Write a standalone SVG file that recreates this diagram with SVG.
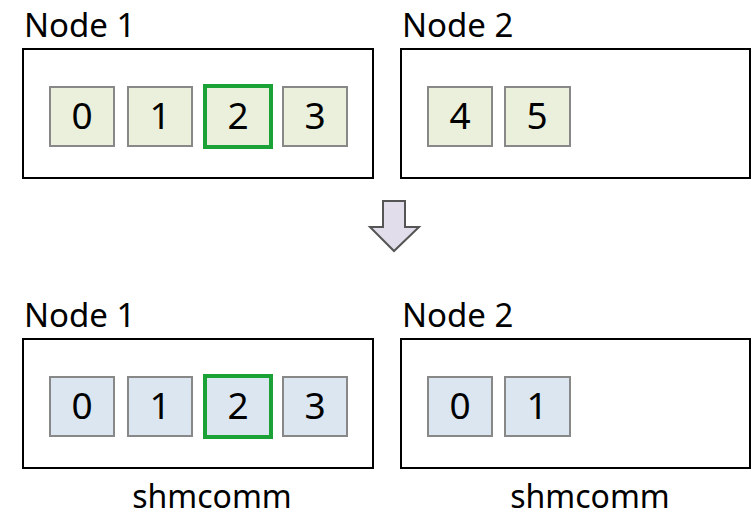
<svg xmlns="http://www.w3.org/2000/svg" width="756" height="516" viewBox="0 0 756 516">
  <style>
    .node { fill: #ffffff; stroke: #000000; stroke-width: 2; }
    .label { font-family: "Noto Sans", "DejaVu Sans", sans-serif; font-size: 33px; fill: #000000; }
    .rank { font-family: "Noto Sans", "DejaVu Sans", sans-serif; font-size: 37px; fill: #000000; text-anchor: middle; }
    .cap { font-family: "Noto Sans", "DejaVu Sans", sans-serif; font-size: 32px; fill: #000000; text-anchor: middle; }
    .world { fill: #ebf0dd; stroke: #888888; stroke-width: 2; }
    .shm { fill: #dce6f0; stroke: #888888; stroke-width: 2; }
    .self { stroke: #1ba236; stroke-width: 4; }
  </style>

  <!-- before split: COMM_WORLD ranks -->
  <g id="top-node1">
    <text class="label" x="24" y="37">Node 1</text>
    <rect class="node" x="23" y="49" width="350" height="129"/>
    <rect class="world" x="50" y="87" width="64" height="59"/>
    <text class="rank" x="82" y="129">0</text>
    <rect class="world" x="128" y="87" width="64" height="59"/>
    <text class="rank" x="160" y="129">1</text>
    <rect class="world self" x="205" y="86" width="66" height="61"/>
    <text class="rank" x="238" y="129">2</text>
    <rect class="world" x="283" y="87" width="64" height="59"/>
    <text class="rank" x="315" y="129">3</text>
  </g>

  <g id="top-node2">
    <text class="label" x="402" y="37">Node 2</text>
    <rect class="node" x="401" y="49" width="349" height="129"/>
    <rect class="world" x="428" y="87" width="64" height="59"/>
    <text class="rank" x="460" y="129">4</text>
    <rect class="world" x="505" y="87" width="65" height="59"/>
    <text class="rank" x="537" y="129">5</text>
  </g>

  <!-- transition arrow -->
  <g id="connectors">
    <path d="M383 201 L405 201 L405 227 L419 227 L394 251 L370 227 L383 227 Z" fill="#e1ddea" stroke="#555555" stroke-width="2" stroke-linejoin="miter"/>
  </g>

  <!-- after split: shared-memory communicators -->
  <g id="bottom-node1">
    <text class="label" x="24" y="327">Node 1</text>
    <rect class="node" x="23" y="339" width="350" height="129"/>
    <rect class="shm" x="50" y="377" width="64" height="59"/>
    <text class="rank" x="82" y="419">0</text>
    <rect class="shm" x="128" y="377" width="64" height="59"/>
    <text class="rank" x="160" y="419">1</text>
    <rect class="shm self" x="205" y="376" width="66" height="61"/>
    <text class="rank" x="238" y="419">2</text>
    <rect class="shm" x="283" y="377" width="64" height="59"/>
    <text class="rank" x="315" y="419">3</text>
    <text class="cap" x="212" y="508">shmcomm</text>
  </g>

  <g id="bottom-node2">
    <text class="label" x="402" y="327">Node 2</text>
    <rect class="node" x="401" y="339" width="349" height="129"/>
    <rect class="shm" x="428" y="377" width="64" height="59"/>
    <text class="rank" x="460" y="419">0</text>
    <rect class="shm" x="505" y="377" width="65" height="59"/>
    <text class="rank" x="537" y="419">1</text>
    <text class="cap" x="590" y="508">shmcomm</text>
  </g>
</svg>
